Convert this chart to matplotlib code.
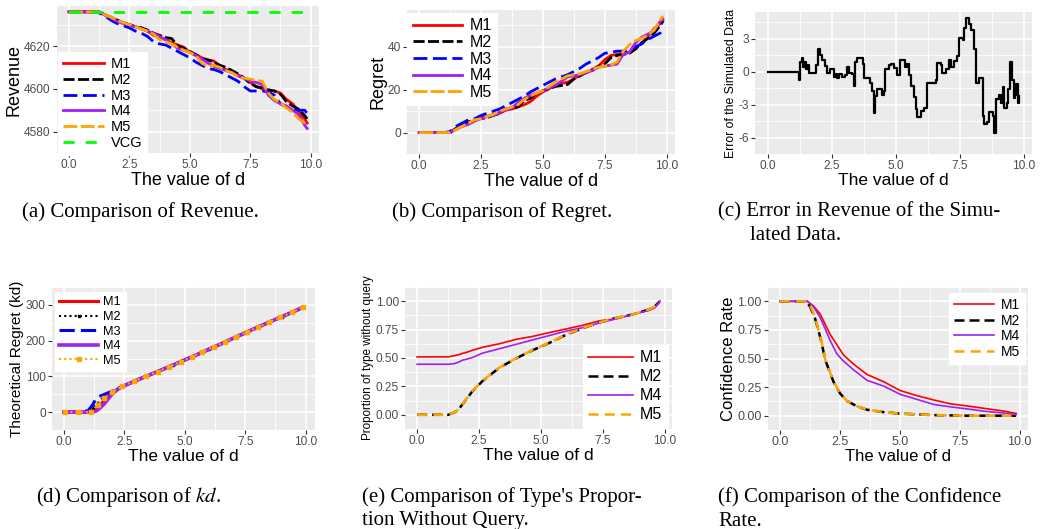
import matplotlib
matplotlib.use('Agg')
import matplotlib.pyplot as plt

plt.rcParams['font.family'] = ['Liberation Sans', 'DejaVu Sans']
plt.rcParams['mathtext.fontset'] = 'stix'

# ---------------- data ----------------
d_ab = [0, 0.25, 0.5, 0.75, 1.0, 1.25, 1.5, 1.75, 2.0, 2.25, 2.5, 2.75, 3.0, 3.25,
        3.5, 3.75, 4.0, 4.25, 4.5, 4.75, 5.0, 5.25, 5.5, 5.75, 6.0, 6.25, 6.5, 6.75,
        7.0, 7.25, 7.5, 7.75, 8.0, 8.25, 8.5, 8.75, 9.0, 9.25, 9.5, 9.75, 9.85]

rev_m1 = [4636, 4636, 4636, 4636, 4636, 4636, 4634.5, 4633.5, 4632, 4631, 4630, 4629,
          4628.5, 4627, 4625, 4624, 4623, 4621.5, 4620.5, 4619.5, 4617, 4616, 4614.5,
          4613.5, 4613, 4610, 4609, 4608, 4606.5, 4605, 4603, 4601, 4600, 4599.5, 4599,
          4598, 4595, 4593, 4589.5, 4586, 4584]
rev_m2 = [4636, 4636, 4636, 4636, 4636, 4636, 4634.5, 4633, 4632, 4631, 4630, 4629,
          4628.5, 4627.5, 4626, 4625, 4624, 4623.5, 4620, 4619, 4617.5, 4616, 4614,
          4613.5, 4612.5, 4611, 4610, 4608.5, 4607, 4605, 4602.5, 4601, 4600.5, 4599.5,
          4599, 4597.5, 4594, 4592, 4590.5, 4587.5, 4586]
rev_m3 = [4636, 4636, 4636, 4636, 4636, 4635.5, 4634, 4632, 4630.5, 4629.5, 4628.5,
          4627, 4626, 4624.5, 4622, 4621, 4620.5, 4619, 4617.5, 4616, 4614.5, 4612.5,
          4611, 4609.5, 4609, 4608, 4606.5, 4605, 4603.5, 4601, 4599, 4599, 4599,
          4598.5, 4597, 4593, 4591.5, 4590, 4590, 4590, 4588.5]
rev_m4 = [4636, 4636, 4636, 4636, 4636, 4636, 4634.5, 4633, 4631.5, 4630.5, 4630, 4629,
          4628, 4627, 4626, 4624.5, 4623, 4621, 4619, 4618, 4617, 4615.5, 4614, 4612,
          4610.5, 4609.5, 4608.5, 4607.5, 4606, 4605, 4603.5, 4603, 4602, 4597, 4594.5,
          4593, 4592, 4590, 4588, 4583, 4581.5]
rev_m5 = [4636, 4636, 4636, 4636, 4636, 4636, 4634.5, 4633.5, 4632, 4631, 4630, 4629,
          4628, 4627, 4625.5, 4623, 4622, 4621, 4619.5, 4618, 4617, 4615.5, 4612,
          4610.5, 4611, 4610, 4608.5, 4607.5, 4605.5, 4605, 4604.5, 4604, 4603.5, 4598,
          4595, 4593.5, 4591, 4589, 4586, 4584, 4583.5]
rev_vcg = [4636] * len(d_ab)

reg_m1 = [0, 0, 0, 0, 0, 0, 2, 3, 4, 5.5, 7, 7.5, 8.5, 9, 10.5, 11, 12, 13, 14.5, 17,
          19, 20.5, 22, 23, 23.5, 25, 27, 28, 29.5, 31, 34, 36, 36.5, 37, 37.5, 40,
          41.5, 45, 48.5, 51, 52]
reg_m2 = [0, 0, 0, 0, 0, 0, 2, 3.5, 5, 6, 6.5, 7, 8, 9, 11, 11.5, 12, 15, 16, 18.5,
          19.5, 20.5, 21.5, 22, 22.5, 25, 26.5, 28, 29, 31, 32, 35, 36, 36.5, 37, 39,
          42, 44, 46.5, 50, 52]
reg_m3 = [0, 0, 0, 0, 0, 0.5, 3, 4.5, 6, 6.5, 8, 9, 10, 11, 12.5, 14, 15.5, 17, 19,
          20.5, 22, 23.5, 25, 26, 27, 28.5, 30, 32, 33.5, 35, 37, 37.5, 38, 38, 38.5,
          40, 41.5, 43.5, 45, 46.5, 48]
reg_m4 = [0, 0, 0, 0, 0, 0, 1.5, 3, 4, 5.5, 6.5, 7.5, 8, 9.5, 10.5, 11.5, 14, 16,
          17.5, 18.5, 19.5, 21, 22, 24, 26, 26.5, 27, 28, 29, 30.5, 31, 31.5, 32, 36.5,
          37.5, 42, 44.5, 46, 47.5, 52, 53]
reg_m5 = [0, 0, 0, 0, 0, 0, 1.5, 3, 4.5, 6, 6.5, 7.5, 8.5, 10, 11, 12, 13, 15.5, 17,
          18.5, 19.5, 21.5, 23.5, 25, 26.5, 27, 27.5, 28.5, 29.5, 30.5, 31, 31.5, 33,
          38, 41, 43, 44, 45.5, 48, 52.5, 54.5]

d_err = [0.00, 1.24, 1.27, 1.34, 1.40, 1.45, 1.50, 1.56, 1.62, 1.90, 1.96, 2.05, 2.12,
         2.25, 2.32, 2.45, 2.58, 2.64, 2.71, 2.77, 2.90, 3.03, 3.10, 3.16, 3.29, 3.38,
         3.42, 3.49, 3.73, 3.78, 4.01, 4.08, 4.14, 4.21, 4.27, 4.47, 4.54, 4.60, 4.73,
         4.80, 4.93, 5.06, 5.16, 5.35, 5.45, 5.52, 5.61, 5.71, 5.78, 5.84, 5.97, 6.10,
         6.24, 6.56, 6.63, 6.76, 6.82, 6.95, 7.08, 7.15, 7.28, 7.39, 7.48, 7.61, 7.67,
         7.76, 7.87, 7.93, 8.04, 8.13, 8.26, 8.39, 8.46, 8.56, 8.65, 8.78, 8.85, 8.92,
         9.05, 9.11, 9.18, 9.24, 9.35, 9.40, 9.48, 9.54, 9.61, 9.67, 9.70, 9.76, 9.83]
err = [0.0, -0.8, 0.85, 1.25, 0.45, 0.85, 0.2, 0.6, -0.1, 0.6, 2.05, 1.5, 1.1, 0.5,
       -0.1, 0.2, -0.5, -0.2, -0.6, -0.2, -0.5, -0.35, 0.45, -0.1, -0.2, -1.3, 0.85,
       1.2, 0.7, -0.6, -1.0, -1.8, -3.8, -2.2, -1.55, -2.1, -1.8, 0.2, 0.6, 0.7, 0.3,
       -0.35, 1.1, 0.45, 0.7, -0.35, -1.3, -2.35, -3.4, -4.1, -3.6, -3.3, -1.0, -0.75,
       0.75, 0.6, -0.1, 0.2, 1.1, 0.45, 1.0, 1.4, 3.1, 2.85, 3.95, 4.9, 4.3, 3.8, 2.05,
       -1.0, -0.6, -4.0, -4.8, -4.6, -3.7, -4.0, -5.6, -2.5, -2.1, -2.9, -1.4, -3.3,
       -2.9, -1.55, 0.85, -0.75, -2.4, -2.1, -1.15, -2.9, -2.2]

d_kd = [0, 0.5, 1.0, 1.2, 1.35, 1.5, 1.62, 1.75, 1.9, 2.04, 2.25, 2.5, 3.0, 3.5, 4.0,
        4.5, 5.0, 5.5, 6.0, 6.5, 7.0, 7.5, 8.0, 8.5, 9.0, 9.5, 9.85]
kd_tail = [74, 89, 103, 117, 131.5, 146, 160.5, 176, 191, 206.5, 222, 237, 252, 266.5,
           281, 292]
kd_m1 = [0, 0, 0, 1, 10, 20, 29, 38, 49, 57, 66] + kd_tail
kd_m2 = [0, 0, 3, 12, 22, 32, 40, 46, 52, 58, 66] + kd_tail
kd_m3 = [0, 0, 4, 22, 40, 45, 48, 52, 56, 60, 67] + kd_tail
kd_m4 = [0, 0, 0, 0.5, 4, 12, 20, 30, 43, 54, 65] + kd_tail
d_kd5 = [0.05, 0.57, 1.1, 1.4, 1.65, 2.0, 2.42, 2.91, 3.38, 3.87, 4.34, 4.85, 5.31,
         5.73, 6.2, 6.67, 7.13, 7.59, 8.04, 8.49, 8.95, 9.44, 9.89]
kd_m5 = [0, 0, 0, 21, 39, 57, 72, 87, 100, 113, 127, 141.5, 155, 169, 183, 196, 211,
         225, 238, 252, 265, 279, 294]

d_prop = [0, 0.5, 1.0, 1.25, 1.5, 1.69, 1.82, 2.0, 2.23, 2.64, 3.31, 3.99, 4.66, 5.34,
          6.0, 6.69, 7.36, 8.04, 8.72, 9.39, 9.6, 9.8]
prop_m1 = [0.51, 0.51, 0.51, 0.51, 0.52, 0.53, 0.54, 0.55, 0.568, 0.594, 0.625, 0.664,
           0.69, 0.724, 0.755, 0.788, 0.827, 0.845, 0.884, 0.922, 0.945, 1.0]
prop_m2 = [0, 0, 0, 0, 0.02, 0.05, 0.09, 0.14, 0.207, 0.297, 0.413, 0.496, 0.568,
           0.633, 0.703, 0.762, 0.814, 0.853, 0.884, 0.93, 0.955, 1.0]
prop_m4 = [0.445, 0.445, 0.445, 0.445, 0.45, 0.465, 0.48, 0.49, 0.504, 0.543, 0.581,
           0.62, 0.659, 0.698, 0.736, 0.767, 0.809, 0.845, 0.884, 0.922, 0.945, 1.0]
prop_m5 = [0, 0, 0, 0, 0.02, 0.05, 0.09, 0.145, 0.21, 0.3, 0.415, 0.498, 0.57, 0.635,
           0.705, 0.764, 0.815, 0.853, 0.884, 0.93, 0.955, 1.0]

d_conf14 = [0, 0.5, 1.0, 1.15, 1.4, 1.68, 1.89, 2.1, 2.38, 2.66, 3.08, 3.64, 4.34, 5.03,
            5.73, 6.43, 7.13, 7.83, 8.53, 9.23, 9.86]
conf_m1 = [1, 1, 1, 1, 0.96, 0.89, 0.80, 0.71, 0.62, 0.53, 0.45, 0.36, 0.296, 0.219,
           0.175, 0.137, 0.103, 0.085, 0.064, 0.044, 0.02]
conf_m4 = [1, 1, 1, 1, 0.954, 0.86, 0.76, 0.657, 0.54, 0.477, 0.40, 0.309, 0.258,
           0.186, 0.142, 0.098, 0.077, 0.059, 0.039, 0.026, 0.01]
d_conf25 = [0, 0.5, 1.0, 1.1, 1.26, 1.47, 1.61, 1.75, 1.89, 2.03, 2.24, 2.52, 2.8,
            3.22, 3.64, 4.34, 5.03, 6.43, 7.83, 9.86]
conf_m2 = [1, 1, 1, 1, 0.954, 0.85, 0.747, 0.631, 0.49, 0.412, 0.296, 0.193, 0.129,
           0.082, 0.052, 0.031, 0.018, 0.005, 0.0, 0.0]
conf_m5 = [1, 1, 1, 1, 0.97, 0.86, 0.75, 0.635, 0.495, 0.415, 0.3, 0.195, 0.13,
           0.083, 0.053, 0.031, 0.018, 0.005, 0.0, 0.0]

x_ticks = [0, 2.5, 5, 7.5, 10]
x_labels = ['0.0', '2.5', '5.0', '7.5', '10.0']
prop_ticks = [0, 0.25, 0.5, 0.75, 1.0]
prop_labels = ['0.00', '0.25', '0.50', '0.75', '1.00']

RED, BLACK, BLUE, PURPLE, ORANGE, GREEN = '#FF0000', '#000000', '#0000FF', '#A020F0', '#FFA500', '#00FF00'

W, H = 1044, 529
fig = plt.figure(figsize=(W / 100, H / 100), dpi=100)


def add_axes(l, r, t, b):
    return fig.add_axes([l / W, 1 - b / H, (r - l) / W, (b - t) / H])


def gg_style(ax, yticks, ylabels, ylabel, ylsize, ticksize, xlsize):
    ax.set_facecolor('#EBEBEB')
    for s in ax.spines.values():
        s.set_visible(False)
    ax.set_xticks(x_ticks)
    ax.set_xticklabels(x_labels)
    ax.set_xticks([1.25, 3.75, 6.25, 8.75], minor=True)
    ax.set_yticks(yticks)
    ax.set_yticklabels(ylabels)
    step = yticks[1] - yticks[0]
    ax.set_yticks([yticks[0] - step / 2] + [y + step / 2 for y in yticks], minor=True)
    ax.grid(which='major', color='white', lw=1.2)
    ax.grid(which='minor', color='white', lw=0.6)
    ax.set_axisbelow(True)
    ax.tick_params(which='minor', length=0)
    ax.tick_params(which='major', length=3, width=0.8, color='#333333',
                   labelcolor='#4D4D4D', labelsize=ticksize, pad=1.5)
    ax.set_xlabel('The value of d', fontsize=xlsize, labelpad=0.5)
    ax.set_ylabel(ylabel, fontsize=ylsize, labelpad=1)


def gg_legend(ax, size, **kw):
    leg = ax.legend(fontsize=size, frameon=True, fancybox=False, framealpha=1,
                    edgecolor='white', facecolor='white', borderaxespad=0,
                    handletextpad=0.45, borderpad=0.35, **kw)
    return leg


# (a) revenue
ax = add_axes(57, 319, 6, 153)
ax.plot(d_ab, rev_m1, color=RED, lw=2, label='M1')
ax.plot(d_ab, rev_m2, color=BLACK, lw=2, ls=(0, (4, 1.2)), label='M2')
ax.plot(d_ab, rev_m3, color=BLUE, lw=2, ls=(0, (5, 2)), label='M3')
ax.plot(d_ab, rev_m4, color=PURPLE, lw=2, label='M4')
ax.plot(d_ab, rev_m5, color=ORANGE, lw=2, ls=(0, (5, 1.2)), label='M5')
ax.plot(d_ab, rev_vcg, color=GREEN, lw=2, ls=(0, (4, 4)), label='VCG')
gg_style(ax, [4580, 4600, 4620], ['4580', '4600', '4620'], 'Revenue', 13, 8.6, 13)
gg_legend(ax, 10.5, loc='upper left', bbox_to_anchor=(0.004, 0.687),
          handlelength=2.8, labelspacing=0.12)

# (b) regret
ax = add_axes(407, 675, 10, 154)
ax.plot(d_ab, reg_m1, color=RED, lw=2, label='M1')
ax.plot(d_ab, reg_m2, color=BLACK, lw=2, ls=(0, (4, 1.2)), label='M2')
ax.plot(d_ab, reg_m3, color=BLUE, lw=2, ls=(0, (5, 2)), label='M3')
ax.plot(d_ab, reg_m4, color=PURPLE, lw=2, label='M4')
ax.plot(d_ab, reg_m5, color=ORANGE, lw=2, ls=(0, (5, 1.2)), label='M5')
gg_style(ax, [0, 20, 40], ['0', '20', '40'], 'Regret', 13, 8.6, 13)
gg_legend(ax, 11.5, loc='upper left', bbox_to_anchor=(0.0, 0.98),
          handlelength=3.1, labelspacing=0.1)

# (c) error of simulated data
ax = add_axes(755, 1032, 12, 154)
ax.plot(d_err, err, color=BLACK, lw=1.6, drawstyle='steps-post')
gg_style(ax, [-6, -3, 0, 3], ['-6', '-3', '0', '3'], 'Error of the Simulated Data', 8.8, 8.6, 12.5)

# (d) theoretical regret
ax = add_axes(52, 315, 287, 430)
ax.plot(d_kd, kd_m1, color=RED, lw=2.2, label='M1')
ax.plot(d_kd, kd_m2, color=BLACK, lw=1.5, ls=(0, (1, 1.5)), marker='s', ms=2,
        markevery=3, label='M2')
ax.plot(d_kd, kd_m3, color=BLUE, lw=2.2, ls=(0, (5, 2)), label='M3')
ax.plot(d_kd, kd_m4, color=PURPLE, lw=2.6, label='M4')
ax.plot(d_kd5, kd_m5, color=ORANGE, lw=1.5, ls=(0, (1, 1.5)), marker='s', ms=3.5,
        label='M5')
gg_style(ax, [0, 100, 200, 300], ['0', '100', '200', '300'], 'Theoretical Regret (kd)',
         11, 8.6, 12.5)
gg_legend(ax, 9.2, loc='upper left', bbox_to_anchor=(0.011, 0.965),
          handlelength=3.0, labelspacing=0.2)

# (e) proportion without query
ax = add_axes(405, 672, 287, 429)
ax.plot(d_prop, prop_m1, color=RED, lw=1.2, label='M1')
ax.plot(d_prop, prop_m2, color=BLACK, lw=1.8, ls=(0, (4, 2)), label='M2')
ax.plot(d_prop, prop_m4, color=PURPLE, lw=1.2, label='M4')
ax.plot(d_prop, prop_m5, color=ORANGE, lw=1.8, ls=(0, (4, 2.5)), label='M5')
gg_style(ax, prop_ticks, prop_labels, 'Proportion of type without query', 8.4, 8.6, 12.5)
gg_legend(ax, 11.5, loc='lower right', bbox_to_anchor=(0.985, 0.007),
          handlelength=2.8, labelspacing=0.25)

# (f) confidence rate
ax = add_axes(768, 1028, 287, 430)
ax.plot(d_conf14, conf_m1, color=RED, lw=1.2, label='M1')
ax.plot(d_conf25, conf_m2, color=BLACK, lw=1.8, ls=(0, (4, 2)), label='M2')
ax.plot(d_conf14, conf_m4, color=PURPLE, lw=1.2, label='M4')
ax.plot(d_conf25, conf_m5, color=ORANGE, lw=1.8, ls=(0, (4, 2.5)), label='M5')
gg_style(ax, prop_ticks, prop_labels, 'Confidence Rate', 12, 9, 12)
gg_legend(ax, 10, loc='upper right', bbox_to_anchor=(0.988, 0.958),
          handlelength=2.9, labelspacing=0.12)

# captions
serif = dict(family='Liberation Serif', size=15, ha='left', va='center')
captions = [(22, 212, '(a) Comparison of Revenue.'),
            (392, 212, '(b) Comparison of Regret.'),
            (718, 212, '(c) Error in Revenue of the Simu-'),
            (750, 236, 'lated Data.'),
            (36, 497, '(d) Comparison of $kd$.'),
            (362, 497, "(e) Comparison of Type's Propor-"),
            (362, 521, 'tion Without Query.'),
            (718, 497, '(f) Comparison of the Confidence'),
            (718, 521, 'Rate.')]
for x, y, s in captions:
    fig.text(x / W, 1 - y / H, s, **serif)

fig.savefig('out.png', dpi=100)
